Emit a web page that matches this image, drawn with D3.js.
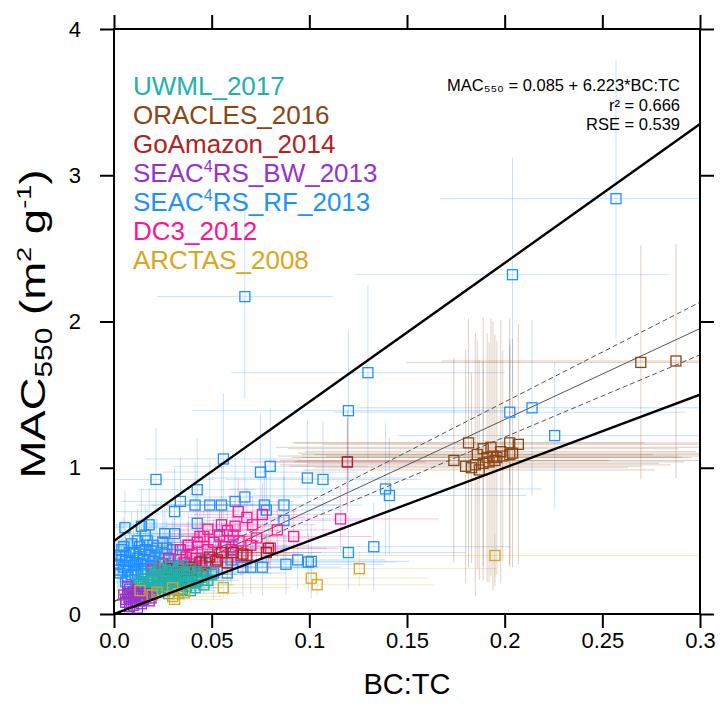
<!DOCTYPE html>
<html>
<head>
<meta charset="utf-8">
<script src="https://cdn.jsdelivr.net/npm/d3@7"></script>
<style>
  body { margin: 0; background: #fff; }
  text { font-family: "Liberation Sans", Arial, Helvetica, sans-serif; }
</style>
</head>
<body>
<script>
const w = 722;
const h = 710;

// axis ticks
const xTicks = [0, 0.05, 0.1, 0.15, 0.2, 0.25, 0.3];
const xTickLabels = ['0.0', '0.05', '0.1', '0.15', '0.2', '0.25', '0.3'];
const yTicks = [0, 1, 2, 3, 4];

// campaigns, legend order
const campaigns = ['UWML_2017', 'ORACLES_2016', 'GoAmazon_2014', 'SEAC4RS_BW_2013', 'SEAC4RS_RF_2013', 'DC3_2012', 'ARCTAS_2008'];
const colors = ['#20b2aa', '#8b4513', '#b22222', '#9932cc', '#1e90ff', '#ff1493', '#daa520'];

// fit statistics text
const statLines = ['MAC\u2085\u2085\u2080 = 0.085 + 6.223*BC:TC', 'r\u00b2 = 0.666', 'RSE = 0.539'];

// [BC:TC, MAC550, BC:TC error, MAC error]
const uwml = [
  [0.012,0.15,0.006,0.05],[0.014,0.19,0.006,0.06],[0.016,0.17,0.007,0.05],[0.018,0.22,0.008,0.07],
  [0.015,0.24,0.007,0.07],[0.020,0.20,0.008,0.06],[0.022,0.26,0.009,0.08],[0.019,0.14,0.007,0.05],
  [0.024,0.18,0.009,0.06],[0.025,0.23,0.010,0.07],[0.027,0.28,0.010,0.08],[0.023,0.31,0.009,0.09],
  [0.028,0.20,0.010,0.06],[0.030,0.25,0.011,0.08],[0.032,0.22,0.012,0.07],[0.029,0.32,0.011,0.09],
  [0.034,0.27,0.012,0.08],[0.031,0.18,0.011,0.06],[0.036,0.24,0.013,0.07],[0.038,0.29,0.013,0.08],
  [0.035,0.20,0.012,0.06],[0.040,0.26,0.014,0.08],[0.042,0.22,0.014,0.07],[0.026,0.16,0.010,0.05],
  [0.021,0.29,0.009,0.08],[0.017,0.27,0.008,0.08],[0.013,0.22,0.006,0.07],[0.033,0.31,0.012,0.09],
  [0.037,0.19,0.013,0.06],[0.044,0.25,0.015,0.08],[0.046,0.20,0.016,0.06],[0.048,0.23,0.016,0.07],
  [0.0415,0.18,0.014,0.06],[0.039,0.16,0.013,0.05],[0.011,0.19,0.005,0.06],[0.016,0.12,0.006,0.04],
  [0.024,0.34,0.010,0.09],[0.028,0.14,0.010,0.05],[0.033,0.16,0.012,0.05],[0.050,0.27,0.017,0.08],
  [0.019,0.25,0.008,0.07],[0.026,0.21,0.010,0.06],[0.030,0.29,0.011,0.08],[0.035,0.33,0.012,0.09],
  [0.014,0.16,0.006,0.05],[0.017,0.20,0.007,0.06],[0.020,0.23,0.008,0.07],[0.022,0.19,0.009,0.06],
  [0.025,0.27,0.010,0.08],[0.027,0.24,0.010,0.07],[0.029,0.21,0.011,0.06],[0.031,0.27,0.011,0.08],
  [0.033,0.24,0.012,0.07],[0.036,0.28,0.013,0.08],[0.038,0.22,0.013,0.07],[0.041,0.29,0.014,0.08],
  [0.043,0.27,0.015,0.08],[0.045,0.23,0.015,0.07],[0.047,0.29,0.016,0.08],[0.021,0.17,0.009,0.05],
  [0.023,0.22,0.009,0.07],[0.026,0.30,0.010,0.08],[0.028,0.26,0.010,0.08],[0.032,0.29,0.012,0.08],
  [0.034,0.21,0.012,0.06],[0.037,0.26,0.013,0.08],[0.040,0.21,0.014,0.06],[0.018,0.18,0.007,0.06],
  [0.015,0.21,0.007,0.06],[0.035,0.17,0.012,0.05],[0.030,0.23,0.011,0.07],[0.039,0.31,0.014,0.09]
];
const oracles = [
  [0.2697,1.72,0.12,0.80],[0.2877,1.73,0.12,0.80],
  [0.1815,1.17,0.09,0.85],[0.174,1.05,0.08,0.70],[0.180,1.01,0.09,0.80],[0.185,1.02,0.10,0.90],
  [0.187,0.985,0.09,0.75],[0.189,1.13,0.10,0.90],[0.193,1.14,0.11,0.88],[0.191,1.07,0.10,0.85],
  [0.194,1.08,0.11,0.92],[0.196,1.07,0.10,0.80],[0.2026,1.17,0.11,0.85],[0.207,1.16,0.10,0.82],
  [0.204,1.10,0.11,0.78],[0.2026,1.09,0.10,0.75],[0.199,1.08,0.09,0.72],[0.192,1.04,0.10,0.82],
  [0.189,1.03,0.09,0.70],[0.183,1.00,0.08,0.65],[0.195,1.05,0.11,0.86],[0.198,1.11,0.10,0.90],
  [0.186,1.09,0.09,0.78]
];
const goamazon = [
  [0.0226,0.185,0.010,0.06],[0.032,0.27,0.014,0.09],[0.036,0.30,0.015,0.10],[0.039,0.32,0.016,0.10],
  [0.030,0.29,0.013,0.09],[0.035,0.25,0.014,0.08],[0.044,0.355,0.018,0.11],[0.049,0.39,0.020,0.12],
  [0.055,0.42,0.022,0.13],[0.061,0.42,0.024,0.13],[0.066,0.41,0.025,0.13],[0.079,0.45,0.030,0.14],
  [0.078,0.42,0.028,0.13],[0.068,0.40,0.026,0.12],[0.053,0.37,0.021,0.11],[0.047,0.35,0.019,0.11],
  [0.031,0.28,0.013,0.09],[0.028,0.24,0.012,0.08],[0.033,0.22,0.013,0.07],[0.038,0.26,0.015,0.08],
  [0.042,0.30,0.017,0.09],[0.040,0.23,0.016,0.07],[0.027,0.31,0.012,0.09],[0.045,0.27,0.018,0.08],
  [0.058,0.35,0.022,0.11],[0.1195,1.04,0.040,0.30]
];
const seacBW = [
  [0.0077,0.11,0.004,0.04],[0.012,0.04,0.005,0.02],[0.006,0.08,0.003,0.03],[0.009,0.14,0.004,0.05],
  [0.011,0.09,0.005,0.03],[0.013,0.12,0.005,0.04],[0.008,0.17,0.004,0.05],[0.015,0.10,0.006,0.04],
  [0.010,0.06,0.004,0.02],[0.017,0.14,0.006,0.05],[0.005,0.13,0.003,0.04],[0.014,0.07,0.005,0.03],
  [0.019,0.11,0.007,0.04],[0.007,0.19,0.004,0.06],[0.012,0.16,0.005,0.05],
  [0.006,0.10,0.003,0.03],[0.009,0.08,0.004,0.03],[0.011,0.13,0.005,0.04],[0.013,0.09,0.005,0.03],
  [0.016,0.12,0.006,0.04],[0.008,0.05,0.004,0.02],[0.010,0.15,0.004,0.05],[0.014,0.14,0.005,0.05],
  [0.018,0.09,0.006,0.03],[0.007,0.14,0.004,0.04]
];
const seacRF = [
  [0.257,2.84,0.090,0.95],[0.204,2.32,0.080,0.80],[0.067,2.17,0.045,0.70],[0.130,1.65,0.070,0.60],
  [0.120,1.39,0.080,0.55],[0.2026,1.38,0.090,0.50],[0.214,1.41,0.090,0.60],[0.2256,1.22,0.080,0.50],
  [0.139,0.855,0.080,0.45],[0.141,0.81,0.070,0.40],[0.056,1.06,0.040,0.45],[0.099,0.93,0.050,0.40],
  [0.107,0.92,0.050,0.40],[0.075,0.97,0.050,0.40],[0.080,1.01,0.050,0.40],[0.077,0.745,0.040,0.30],
  [0.087,0.745,0.040,0.30],[0.087,0.64,0.040,0.30],[0.078,0.71,0.040,0.30],[0.120,0.42,0.060,0.25],
  [0.133,0.46,0.070,0.30],[0.101,0.36,0.050,0.25],[0.088,0.34,0.050,0.20],[0.076,0.32,0.040,0.20],
  [0.066,0.32,0.035,0.20],[0.051,0.28,0.030,0.18],[0.0605,0.46,0.030,0.22],[0.054,0.53,0.030,0.25],
  [0.0215,0.92,0.030,0.35],[0.0426,0.85,0.030,0.35],[0.034,0.77,0.030,0.30],[0.031,0.70,0.030,0.30],
  [0.0415,0.745,0.030,0.30],[0.049,0.745,0.030,0.30],[0.055,0.745,0.030,0.30],[0.062,0.77,0.030,0.30],
  [0.067,0.80,0.030,0.30],[0.0426,0.62,0.030,0.25],[0.0056,0.59,0.020,0.25],[0.014,0.60,0.020,0.25],
  [0.018,0.61,0.020,0.25],[0.016,0.54,0.020,0.20],[0.026,0.55,0.020,0.20],[0.031,0.55,0.020,0.20],
  [0.004,0.44,0.015,0.20],[0.006,0.40,0.015,0.18],[0.008,0.36,0.015,0.18],[0.005,0.32,0.015,0.15],
  [0.003,0.28,0.012,0.15],[0.007,0.25,0.012,0.12],[0.010,0.42,0.018,0.20],[0.012,0.38,0.018,0.18],
  [0.011,0.30,0.016,0.15],[0.014,0.34,0.018,0.16],[0.016,0.44,0.020,0.20],[0.018,0.40,0.020,0.18],
  [0.020,0.36,0.020,0.18],[0.015,0.27,0.016,0.14],[0.022,0.45,0.022,0.20],[0.024,0.31,0.020,0.15],
  [0.026,0.41,0.022,0.18],[0.028,0.37,0.022,0.18],[0.009,0.48,0.018,0.22],[0.004,0.37,0.014,0.18],
  [0.013,0.46,0.020,0.20],[0.019,0.33,0.018,0.16],[0.030,0.44,0.024,0.20],[0.034,0.40,0.025,0.18],
  [0.006,0.22,0.012,0.12],[0.002,0.34,0.010,0.16],[0.017,0.50,0.020,0.22],[0.025,0.49,0.022,0.22],
  [0.038,0.47,0.026,0.22],[0.045,0.36,0.028,0.18],[0.058,0.28,0.030,0.16],[0.060,0.37,0.030,0.18],
  [0.094,0.37,0.045,0.20],[0.0995,0.355,0.045,0.20],[0.070,0.32,0.035,0.18],
  [0.003,0.40,0.012,0.18],[0.005,0.46,0.014,0.20],[0.007,0.30,0.014,0.15],[0.009,0.27,0.014,0.14],
  [0.011,0.35,0.016,0.16],[0.013,0.41,0.018,0.18],[0.015,0.37,0.018,0.18],[0.017,0.31,0.018,0.15],
  [0.019,0.43,0.020,0.20],[0.021,0.39,0.020,0.18],[0.023,0.35,0.020,0.16],[0.008,0.42,0.016,0.20],
  [0.012,0.50,0.018,0.22],[0.002,0.30,0.010,0.14],[0.006,0.36,0.014,0.17],[0.010,0.33,0.016,0.16],
  [0.014,0.29,0.016,0.14],[0.020,0.47,0.020,0.21],[0.027,0.45,0.022,0.20],[0.029,0.33,0.022,0.16]
];
const dc3 = [
  [0.0636,0.70,0.030,0.22],[0.076,0.68,0.035,0.22],[0.068,0.66,0.030,0.20],[0.055,0.61,0.028,0.20],
  [0.062,0.60,0.030,0.20],[0.054,0.54,0.026,0.18],[0.061,0.54,0.028,0.18],[0.044,0.53,0.024,0.18],
  [0.0426,0.49,0.022,0.16],[0.0836,0.575,0.035,0.20],[0.092,0.53,0.040,0.18],[0.116,0.65,0.050,0.22],
  [0.034,0.44,0.020,0.15],[0.048,0.44,0.024,0.15],[0.051,0.49,0.025,0.16],[0.037,0.39,0.020,0.14],
  [0.070,0.47,0.030,0.16],[0.065,0.40,0.028,0.14],[0.046,0.53,0.024,0.18],[0.080,0.45,0.035,0.15],
  [0.1195,1.04,0.050,0.35],[0.028,0.38,0.018,0.13],[0.025,0.34,0.016,0.12],[0.040,0.41,0.022,0.14],
  [0.057,0.46,0.026,0.16],[0.052,0.36,0.025,0.13],[0.045,0.33,0.022,0.12],[0.060,0.44,0.028,0.15],
  [0.073,0.52,0.032,0.18],[0.030,0.31,0.018,0.11],[0.020,0.30,0.015,0.11],[0.036,0.35,0.020,0.12],
  [0.064,0.50,0.030,0.17],[0.058,0.57,0.028,0.19],[0.048,0.58,0.025,0.19],[0.071,0.61,0.032,0.20],
  [0.038,0.47,0.020,0.16],[0.026,0.27,0.016,0.10],[0.042,0.38,0.022,0.13]
];
const arctas = [
  [0.101,0.245,0.060,0.10],[0.104,0.20,0.060,0.08],[0.1256,0.31,0.070,0.12],[0.195,0.40,0.110,0.15],
  [0.0133,0.16,0.015,0.05],[0.0195,0.13,0.018,0.05],[0.030,0.12,0.025,0.05],[0.033,0.14,0.030,0.05],
  [0.036,0.145,0.030,0.06],[0.030,0.18,0.025,0.06],[0.056,0.18,0.035,0.07],[0.031,0.10,0.025,0.04],
  [0.022,0.15,0.020,0.05]
];
const seriesData = [uwml, oracles, goamazon, seacBW, seacRF, dc3, arctas];
// drawing order (index into campaigns), last on top
const drawOrder = [4, 5, 2, 0, 3, 6, 1];

// fitted lines [intercept, slope]
const fitLine = [0.085, 6.223];
const fitBand = [[0.085, 6.823], [0.085, 5.623]];
const boundLines = [[0.5, 9.5], [0.0, 5.0]];

const x = d3.scaleLinear().domain([0, 0.3]).range([114, 700]);
const y = d3.scaleLinear().domain([0, 4]).range([614, 29]);

const svg = d3.select('body').append('svg')
  .attr('width', w)
  .attr('height', h);

svg.append('defs').append('clipPath').attr('id', 'plot')
  .append('rect')
  .attr('x', x(0)).attr('y', y(4))
  .attr('width', x(0.3) - x(0)).attr('height', y(0) - y(4));

const plot = svg.append('g').attr('clip-path', 'url(#plot)');

// error bars
drawOrder.forEach(function(i) {
  const g = plot.append('g')
    .attr('stroke', colors[i])
    .attr('stroke-opacity', 0.26)
    .attr('stroke-width', 1);
  seriesData[i].forEach(function(d) {
    g.append('line')
      .attr('x1', x(d[0] - d[2])).attr('x2', x(d[0] + d[2]))
      .attr('y1', y(d[1])).attr('y2', y(d[1]));
    g.append('line')
      .attr('x1', x(d[0])).attr('x2', x(d[0]))
      .attr('y1', y(d[1] - d[3])).attr('y2', y(d[1] + d[3]));
  });
});

const lineAt = (c) => [[0, c[0]], [0.3, c[0] + c[1] * 0.3]];
const path = d3.line().x((d) => x(d[0])).y((d) => y(d[1]));

plot.append('path').attr('d', path(lineAt(fitLine)))
  .attr('fill', 'none').attr('stroke', '#555').attr('stroke-width', 1);
fitBand.forEach(function(c) {
  plot.append('path').attr('d', path(lineAt(c)))
    .attr('fill', 'none').attr('stroke', '#555').attr('stroke-width', 1)
    .attr('stroke-dasharray', '5,3');
});

// markers
drawOrder.forEach(function(i) {
  plot.append('g').selectAll('rect')
    .data(seriesData[i])
    .enter()
    .append('rect')
    .attr('x', (d) => x(d[0]) - 5)
    .attr('y', (d) => y(d[1]) - 5)
    .attr('width', 10)
    .attr('height', 10)
    .attr('fill', 'none')
    .attr('stroke', colors[i])
    .attr('stroke-width', 1.3);
});

boundLines.forEach(function(c) {
  plot.append('path').attr('d', path(lineAt(c)))
    .attr('fill', 'none').attr('stroke', '#000').attr('stroke-width', 2.4);
});

// axes
const fontAxis = 22;
const xAxis = d3.axisBottom(x).tickValues(xTicks).tickSize(14).tickSizeOuter(0).tickPadding(4)
  .tickFormat((d, i) => xTickLabels[i]);
const yAxis = d3.axisLeft(y).tickValues(yTicks).tickSize(14).tickSizeOuter(0).tickPadding(19)
  .tickFormat(d3.format('d'));

function styleAxis(g) {
  g.select('.domain').remove();
  g.selectAll('line').attr('stroke', '#000').attr('stroke-width', 2);
  g.selectAll('text').attr('font-size', fontAxis).attr('fill', '#000')
    .style('font-family', '"Liberation Sans", Arial, sans-serif');
}

svg.append('g').attr('transform', 'translate(0,' + y(0) + ')').call(xAxis).call(styleAxis);
svg.append('g').attr('transform', 'translate(0,' + y(4) + ')')
  .call(d3.axisTop(x).tickValues(xTicks).tickSize(14).tickSizeOuter(0).tickFormat(''))
  .call(styleAxis);
svg.append('g').attr('transform', 'translate(' + x(0) + ',0)').call(yAxis).call(styleAxis);
svg.append('g').attr('transform', 'translate(' + x(0.3) + ',0)')
  .call(d3.axisRight(y).tickValues(yTicks).tickSize(14).tickSizeOuter(0).tickFormat(''))
  .call(styleAxis);

svg.append('rect')
  .attr('x', x(0)).attr('y', y(4))
  .attr('width', x(0.3) - x(0)).attr('height', y(0) - y(4))
  .attr('fill', 'none').attr('stroke', '#000').attr('stroke-width', 2);

// axis titles
svg.append('text')
  .attr('x', (x(0) + x(0.3)) / 2)
  .attr('y', 694)
  .attr('text-anchor', 'middle')
  .attr('font-size', 29)
  .text('BC:TC');

const yt = svg.append('text')
  .attr('transform', 'translate(45,324) rotate(-90) scale(1.3,1)')
  .attr('text-anchor', 'middle')
  .attr('font-size', 35);
yt.append('tspan').text('MAC');
yt.append('tspan').attr('font-size', 23).attr('dy', 7).text('550');
yt.append('tspan').attr('dy', -7).text(' (m');
yt.append('tspan').attr('font-size', 21).attr('dy', -14).text('2');
yt.append('tspan').attr('dy', 14).text(' g');
yt.append('tspan').attr('font-size', 21).attr('dy', -14).text('-1');
yt.append('tspan').attr('dy', 14).text(')');

// legend
const legend = svg.append('g').attr('font-size', 26);
campaigns.forEach(function(name, i) {
  const t = legend.append('text')
    .attr('x', 133)
    .attr('y', 95 + i * 29)
    .attr('fill', colors[i]);
  if (name.startsWith('SEAC4')) {
    t.append('tspan').text('SEAC');
    t.append('tspan').attr('font-size', 16).attr('dy', -10).text('4');
    t.append('tspan').attr('dy', 10).text(name.slice(5));
  } else {
    t.text(name);
  }
});

// fit statistics
svg.append('g').attr('font-size', 16.5).attr('text-anchor', 'end')
  .selectAll('text')
  .data(statLines)
  .enter()
  .append('text')
  .attr('x', 680)
  .attr('y', (d, i) => [91, 111, 130][i])
  .text((d) => d);
</script>
</body>
</html>
